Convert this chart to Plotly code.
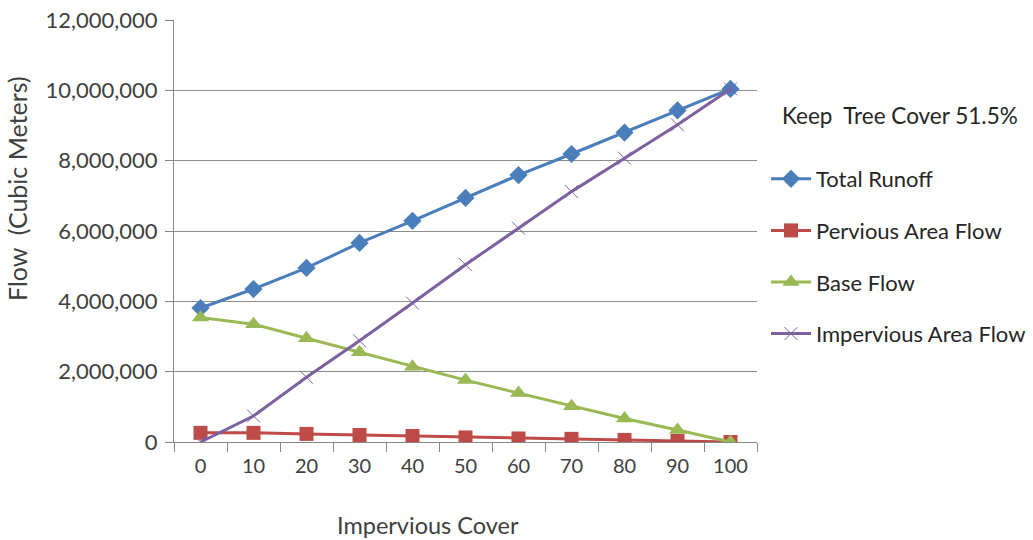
import plotly.graph_objects as go

# Impervious cover steps (%)
cover = ["0", "10", "20", "30", "40", "50", "60", "70", "80", "90", "100"]

# Flow components in cubic meters
total_runoff = [3810000, 4350000, 4950000, 5660000, 6290000, 6940000, 7590000, 8190000, 8800000, 9430000, 10040000]
pervious_flow = [260000, 260000, 230000, 200000, 170000, 130000, 100000, 90000, 60000, 30000, 0]
base_flow = [3540000, 3350000, 2950000, 2550000, 2140000, 1760000, 1390000, 1020000, 670000, 340000, 0]
impervious_flow = [0, 740000, 1840000, 2880000, 3950000, 5040000, 6080000, 7120000, 8070000, 9020000, 10040000]

y_ticks = [0, 2000000, 4000000, 6000000, 8000000, 10000000, 12000000]

FONT = "Lato"
TEXT = "#404040"
W, H = 1033, 540
M = dict(l=174, r=276, t=20, b=98)

series = [
    ("Total Runoff", total_runoff, "#4A7EBB", dict(symbol="diamond", size=14)),
    ("Pervious Area Flow", pervious_flow, "#BE4B48", dict(symbol="square", size=14)),
    ("Base Flow", base_flow, "#98B954", dict(symbol="triangle-up", size=15)),
    ("Impervious Area Flow", impervious_flow, "#7D60A0",
     dict(symbol="x-thin", size=13, line=dict(width=1, color="#7D60A0"))),
]

fig = go.Figure()
for i, (name, vals, color, marker) in enumerate(series):
    fig.add_trace(go.Scatter(
        x=cover, y=vals, name=name, mode="lines+markers",
        line=dict(color=color, width=3),
        marker=dict(color=color, **marker),
        legendgroup=f"g{i}",
    ))


def px(xp, yp):
    """Convert page pixels to paper coordinates."""
    pw = W - M["l"] - M["r"]
    ph = H - M["t"] - M["b"]
    return (xp - M["l"]) / pw, (H - M["b"] - yp) / ph


kx, ky = px(780, 115)
tx, ty = px(17, 189)
bx, by = px(428, 525)

fig.update_layout(
    width=W, height=H, margin=M,
    paper_bgcolor="white", plot_bgcolor="white",
    font=dict(family=FONT, size=20, color=TEXT),
    legend=dict(
        xref="container", yref="container",
        x=766 / W, y=1 - 158 / H, xanchor="left", yanchor="top",
        font=dict(family=FONT, size=22, color="#262626"),
        tracegroupgap=20, itemwidth=40,
    ),
    annotations=[
        dict(text="Keep  Tree Cover 51.5%", xref="paper", yref="paper",
             x=kx, y=ky, xanchor="left", yanchor="middle", showarrow=False,
             font=dict(family=FONT, size=22.5, color="#262626")),
        dict(text="Flow  (Cubic Meters)", xref="paper", yref="paper",
             x=tx, y=ty, xanchor="center", yanchor="middle", showarrow=False,
             textangle=-90, font=dict(family=FONT, size=25, color=TEXT)),
        dict(text="Impervious Cover", xref="paper", yref="paper",
             x=bx, y=by, xanchor="center", yanchor="middle", showarrow=False,
             font=dict(family=FONT, size=23.5, color=TEXT)),
    ],
)

fig.update_xaxes(
    type="category", range=[-0.5, 10.5], showgrid=False, automargin=False,
    showline=True, linecolor="#868686", linewidth=1,
    ticks="outside", tickson="boundaries", ticklen=9, tickcolor="#868686",
    tickfont=dict(size=20, color=TEXT), ticklabelstandoff=6,
)
fig.update_yaxes(
    range=[0, 12000000], tickvals=y_ticks, tickformat=",d", automargin=False,
    showgrid=True, gridcolor="#8C8C8C", gridwidth=1,
    showline=True, linecolor="#868686", linewidth=1,
    ticks="outside", ticklen=8, tickcolor="#868686",
    tickfont=dict(size=22, color=TEXT), ticklabelstandoff=3, zeroline=False,
)

fig.write_html("out.html")
